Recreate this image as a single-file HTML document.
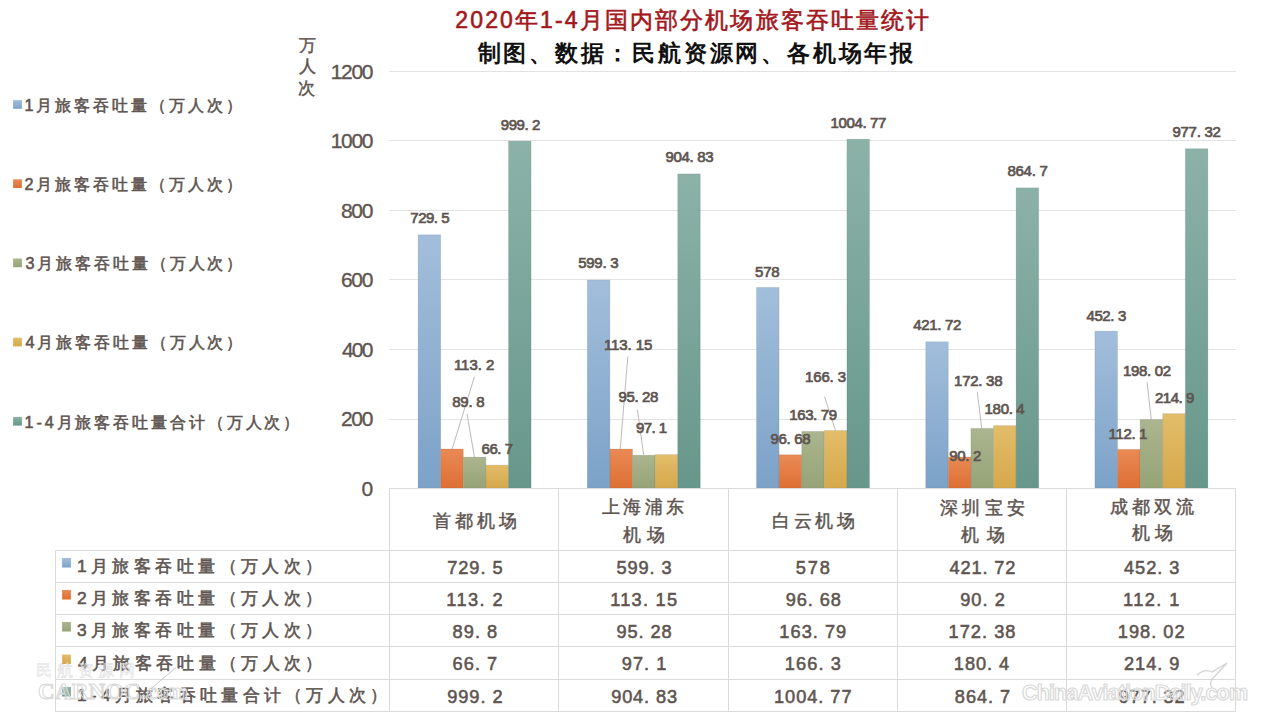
<!DOCTYPE html>
<html><head><meta charset="utf-8"><title>2020年1-4月国内部分机场旅客吞吐量统计</title>
<style>html,body{margin:0;padding:0;background:#fff;}body{width:1280px;height:720px;overflow:hidden;position:relative;}svg{position:absolute;left:0;top:0;display:block;}text{font-family:"Liberation Sans",sans-serif;}</style></head><body>
<svg width="1280" height="720" viewBox="0 0 1280 720">
<defs>
<linearGradient id="g0" x1="0" y1="0" x2="0" y2="1"><stop offset="0" stop-color="#a2bedb"/><stop offset="1" stop-color="#7ca2c8"/></linearGradient>
<linearGradient id="g1" x1="0" y1="0" x2="0" y2="1"><stop offset="0" stop-color="#ea8a55"/><stop offset="1" stop-color="#dd6f33"/></linearGradient>
<linearGradient id="g2" x1="0" y1="0" x2="0" y2="1"><stop offset="0" stop-color="#abb58f"/><stop offset="1" stop-color="#96a376"/></linearGradient>
<linearGradient id="g3" x1="0" y1="0" x2="0" y2="1"><stop offset="0" stop-color="#e3bd6a"/><stop offset="1" stop-color="#d5a84a"/></linearGradient>
<linearGradient id="g4" x1="0" y1="0" x2="0" y2="1"><stop offset="0" stop-color="#8cb2a8"/><stop offset="1" stop-color="#67978a"/></linearGradient>
</defs>
<rect width="1280" height="720" fill="#fff"/>
<line x1="389" y1="419.5" x2="1236" y2="419.5" stroke="#e3e3e3" stroke-width="1"/>
<line x1="389" y1="349.5" x2="1236" y2="349.5" stroke="#e3e3e3" stroke-width="1"/>
<line x1="389" y1="279.5" x2="1236" y2="279.5" stroke="#e3e3e3" stroke-width="1"/>
<line x1="389" y1="210.5" x2="1236" y2="210.5" stroke="#e3e3e3" stroke-width="1"/>
<line x1="389" y1="140.5" x2="1236" y2="140.5" stroke="#e3e3e3" stroke-width="1"/>
<line x1="389" y1="71.5" x2="1236" y2="71.5" stroke="#e3e3e3" stroke-width="1"/>
<rect x="418.10" y="234.80" width="22.60" height="253.50" fill="url(#g0)" stroke="#2a3a48" stroke-opacity="0.1" stroke-width="1"/>
<rect x="587.30" y="280.04" width="22.60" height="208.26" fill="url(#g0)" stroke="#2a3a48" stroke-opacity="0.1" stroke-width="1"/>
<rect x="756.50" y="287.45" width="22.60" height="200.85" fill="url(#g0)" stroke="#2a3a48" stroke-opacity="0.1" stroke-width="1"/>
<rect x="925.70" y="341.75" width="22.60" height="146.55" fill="url(#g0)" stroke="#2a3a48" stroke-opacity="0.1" stroke-width="1"/>
<rect x="1094.90" y="331.13" width="22.60" height="157.17" fill="url(#g0)" stroke="#2a3a48" stroke-opacity="0.1" stroke-width="1"/>
<rect x="440.70" y="448.96" width="22.60" height="39.34" fill="url(#g1)" stroke="#2a3a48" stroke-opacity="0.1" stroke-width="1"/>
<rect x="609.90" y="448.98" width="22.60" height="39.32" fill="url(#g1)" stroke="#2a3a48" stroke-opacity="0.1" stroke-width="1"/>
<rect x="779.10" y="454.70" width="22.60" height="33.60" fill="url(#g1)" stroke="#2a3a48" stroke-opacity="0.1" stroke-width="1"/>
<rect x="948.30" y="456.96" width="22.60" height="31.34" fill="url(#g1)" stroke="#2a3a48" stroke-opacity="0.1" stroke-width="1"/>
<rect x="1117.50" y="449.35" width="22.60" height="38.95" fill="url(#g1)" stroke="#2a3a48" stroke-opacity="0.1" stroke-width="1"/>
<rect x="463.30" y="457.09" width="22.60" height="31.21" fill="url(#g2)" stroke="#2a3a48" stroke-opacity="0.1" stroke-width="1"/>
<rect x="632.50" y="455.19" width="22.60" height="33.11" fill="url(#g2)" stroke="#2a3a48" stroke-opacity="0.1" stroke-width="1"/>
<rect x="801.70" y="431.38" width="22.60" height="56.92" fill="url(#g2)" stroke="#2a3a48" stroke-opacity="0.1" stroke-width="1"/>
<rect x="970.90" y="428.40" width="22.60" height="59.90" fill="url(#g2)" stroke="#2a3a48" stroke-opacity="0.1" stroke-width="1"/>
<rect x="1140.10" y="419.49" width="22.60" height="68.81" fill="url(#g2)" stroke="#2a3a48" stroke-opacity="0.1" stroke-width="1"/>
<rect x="485.90" y="465.12" width="22.60" height="23.18" fill="url(#g3)" stroke="#2a3a48" stroke-opacity="0.1" stroke-width="1"/>
<rect x="655.10" y="454.56" width="22.60" height="33.74" fill="url(#g3)" stroke="#2a3a48" stroke-opacity="0.1" stroke-width="1"/>
<rect x="824.30" y="430.51" width="22.60" height="57.79" fill="url(#g3)" stroke="#2a3a48" stroke-opacity="0.1" stroke-width="1"/>
<rect x="993.50" y="425.61" width="22.60" height="62.69" fill="url(#g3)" stroke="#2a3a48" stroke-opacity="0.1" stroke-width="1"/>
<rect x="1162.70" y="413.62" width="22.60" height="74.68" fill="url(#g3)" stroke="#2a3a48" stroke-opacity="0.1" stroke-width="1"/>
<rect x="508.50" y="141.08" width="22.60" height="347.22" fill="url(#g4)" stroke="#2a3a48" stroke-opacity="0.1" stroke-width="1"/>
<rect x="677.70" y="173.87" width="22.60" height="314.43" fill="url(#g4)" stroke="#2a3a48" stroke-opacity="0.1" stroke-width="1"/>
<rect x="846.90" y="139.14" width="22.60" height="349.16" fill="url(#g4)" stroke="#2a3a48" stroke-opacity="0.1" stroke-width="1"/>
<rect x="1016.10" y="187.82" width="22.60" height="300.48" fill="url(#g4)" stroke="#2a3a48" stroke-opacity="0.1" stroke-width="1"/>
<rect x="1185.30" y="148.68" width="22.60" height="339.62" fill="url(#g4)" stroke="#2a3a48" stroke-opacity="0.1" stroke-width="1"/>
<g stroke="#dadada" stroke-width="1" fill="none">
<line x1="389" y1="488.5" x2="1236" y2="488.5"/>
<line x1="55" y1="550.5" x2="1236" y2="550.5"/>
<line x1="55" y1="582.5" x2="1236" y2="582.5"/>
<line x1="55" y1="614.5" x2="1236" y2="614.5"/>
<line x1="55" y1="646.5" x2="1236" y2="646.5"/>
<line x1="55" y1="679.5" x2="1236" y2="679.5"/>
<line x1="55" y1="711.5" x2="1236" y2="711.5"/>
<line x1="55.5" y1="550.5" x2="55.5" y2="712.0"/>
<line x1="389.5" y1="488.5" x2="389.5" y2="712.0"/>
<line x1="558.5" y1="488.5" x2="558.5" y2="712.0"/>
<line x1="728.5" y1="488.5" x2="728.5" y2="712.0"/>
<line x1="897.5" y1="488.5" x2="897.5" y2="712.0"/>
<line x1="1066.5" y1="488.5" x2="1066.5" y2="712.0"/>
<line x1="1235.5" y1="488.5" x2="1235.5" y2="712.0"/>
</g>
<g stroke="#b9b0ab" stroke-width="0.9" fill="none">
<line x1="474.4" y1="376.7" x2="452.2" y2="448.9"/>
<line x1="467.1" y1="414" x2="474.4" y2="457.1"/>
<line x1="627.8" y1="356.6" x2="620.2" y2="449.4"/>
<line x1="637.4" y1="409.7" x2="643.8" y2="455.8"/>
<line x1="824.5" y1="396.7" x2="835.5" y2="430.5"/>
<line x1="977.3" y1="392.2" x2="981.8" y2="428.9"/>
<line x1="1147.1" y1="382.4" x2="1151.3" y2="420.1"/>
</g>
<rect x="13.1" y="100.1" width="8.8" height="8.7" fill="url(#g0)"/>
<rect x="62.1" y="558.0" width="8.8" height="9.5" fill="url(#g0)"/>
<rect x="13.1" y="179.3" width="8.8" height="8.7" fill="url(#g1)"/>
<rect x="62.1" y="590.0" width="8.8" height="9.5" fill="url(#g1)"/>
<rect x="13.1" y="258.5" width="8.8" height="8.7" fill="url(#g2)"/>
<rect x="62.1" y="622.0" width="8.8" height="9.5" fill="url(#g2)"/>
<rect x="13.1" y="337.7" width="8.8" height="8.7" fill="url(#g3)"/>
<rect x="62.1" y="654.5" width="8.8" height="9.5" fill="url(#g3)"/>
<rect x="13.1" y="416.9" width="8.8" height="8.7" fill="url(#g4)"/>
<rect x="62.1" y="687.0" width="8.8" height="9.5" fill="url(#g4)"/>
<text id="title" x="455.30" y="27.62" font-size="23.00" font-weight="normal" fill="#a3171d" stroke="#a3171d" stroke-width="0.6" textLength="473.96" lengthAdjust="spacing">2020年1-4月国内部分机场旅客吞吐量统计</text>
<text id="sub" x="477.60" y="60.62" font-size="23.00" font-weight="bold" fill="#111111" textLength="435.46" lengthAdjust="spacing">制图、数据：民航资源网、各机场年报</text>
<text id="yt1" x="299.00" y="51.28" font-size="17.00" font-weight="normal" fill="#5e5450" stroke="#5e5450" stroke-width="0.45">万</text>
<text id="yt2" x="299.00" y="71.78" font-size="17.00" font-weight="normal" fill="#5e5450" stroke="#5e5450" stroke-width="0.45">人</text>
<text id="yt3" x="298.00" y="93.58" font-size="17.00" font-weight="normal" fill="#5e5450" stroke="#5e5450" stroke-width="0.45">次</text>
<text id="yl1200" x="330.80" y="78.65" font-size="21.00" font-weight="normal" fill="#5e5450" stroke="#5e5450" stroke-width="0.35" textLength="42.62" lengthAdjust="spacing">1200</text>
<text id="yl1000" x="330.80" y="148.15" font-size="21.00" font-weight="normal" fill="#5e5450" stroke="#5e5450" stroke-width="0.35" textLength="42.62" lengthAdjust="spacing">1000</text>
<text id="yl800" x="341.00" y="217.65" font-size="21.00" font-weight="normal" fill="#5e5450" stroke="#5e5450" stroke-width="0.35" textLength="32.42" lengthAdjust="spacing">800</text>
<text id="yl600" x="341.00" y="287.15" font-size="21.00" font-weight="normal" fill="#5e5450" stroke="#5e5450" stroke-width="0.35" textLength="32.42" lengthAdjust="spacing">600</text>
<text id="yl400" x="342.00" y="356.65" font-size="21.00" font-weight="normal" fill="#5e5450" stroke="#5e5450" stroke-width="0.35" textLength="31.42" lengthAdjust="spacing">400</text>
<text id="yl200" x="341.00" y="426.15" font-size="21.00" font-weight="normal" fill="#5e5450" stroke="#5e5450" stroke-width="0.35" textLength="32.42" lengthAdjust="spacing">200</text>
<text id="yl0" x="361.50" y="495.65" font-size="21.00" font-weight="normal" fill="#5e5450" stroke="#5e5450" stroke-width="0.35">0</text>
<text id="leg0" x="24.50" y="110.83" font-size="16.20" font-weight="normal" fill="#5e5450" stroke="#5e5450" stroke-width="0.55" textLength="217.82" lengthAdjust="spacing">1月旅客吞吐量（万人次）</text>
<text id="leg1" x="24.50" y="190.03" font-size="16.20" font-weight="normal" fill="#5e5450" stroke="#5e5450" stroke-width="0.55" textLength="217.82" lengthAdjust="spacing">2月旅客吞吐量（万人次）</text>
<text id="leg2" x="25.50" y="269.23" font-size="16.20" font-weight="normal" fill="#5e5450" stroke="#5e5450" stroke-width="0.55" textLength="216.82" lengthAdjust="spacing">3月旅客吞吐量（万人次）</text>
<text id="leg3" x="25.50" y="348.43" font-size="16.20" font-weight="normal" fill="#5e5450" stroke="#5e5450" stroke-width="0.55" textLength="216.82" lengthAdjust="spacing">4月旅客吞吐量（万人次）</text>
<text id="leg4" x="24.50" y="427.63" font-size="16.20" font-weight="normal" fill="#5e5450" stroke="#5e5450" stroke-width="0.55" textLength="274.82" lengthAdjust="spacing">1-4月旅客吞吐量合计（万人次）</text>
<text id="dl729.5" x="410.30" y="223.20" font-size="15.00" font-weight="normal" fill="#5e5450" stroke="#5e5450" stroke-width="0.7" textLength="39.20" lengthAdjust="spacing">729. 5</text>
<text id="dl999.2" x="500.80" y="129.50" font-size="15.00" font-weight="normal" fill="#5e5450" stroke="#5e5450" stroke-width="0.7" textLength="39.50" lengthAdjust="spacing">999. 2</text>
<text id="dl113.2" x="453.90" y="370.00" font-size="15.00" font-weight="normal" fill="#5e5450" stroke="#5e5450" stroke-width="0.7" textLength="40.40" lengthAdjust="spacing">113. 2</text>
<text id="dl89.8" x="452.20" y="406.70" font-size="15.00" font-weight="normal" fill="#5e5450" stroke="#5e5450" stroke-width="0.7" textLength="32.50" lengthAdjust="spacing">89. 8</text>
<text id="dl66.7" x="481.60" y="454.40" font-size="15.00" font-weight="normal" fill="#5e5450" stroke="#5e5450" stroke-width="0.7" textLength="31.40" lengthAdjust="spacing">66. 7</text>
<text id="dl599.3" x="578.20" y="268.40" font-size="15.00" font-weight="normal" fill="#5e5450" stroke="#5e5450" stroke-width="0.7" textLength="40.30" lengthAdjust="spacing">599. 3</text>
<text id="dl904.83" x="665.60" y="162.20" font-size="15.00" font-weight="normal" fill="#5e5450" stroke="#5e5450" stroke-width="0.7" textLength="48.00" lengthAdjust="spacing">904. 83</text>
<text id="dl113.15" x="603.90" y="350.00" font-size="15.00" font-weight="normal" fill="#5e5450" stroke="#5e5450" stroke-width="0.7" textLength="48.50" lengthAdjust="spacing">113. 15</text>
<text id="dl95.28" x="618.60" y="402.20" font-size="15.00" font-weight="normal" fill="#5e5450" stroke="#5e5450" stroke-width="0.7" textLength="39.70" lengthAdjust="spacing">95. 28</text>
<text id="dl97.1" x="636.00" y="432.90" font-size="15.00" font-weight="normal" fill="#5e5450" stroke="#5e5450" stroke-width="0.7" textLength="31.00" lengthAdjust="spacing">97. 1</text>
<text id="dl578" x="755.00" y="276.70" font-size="15.00" font-weight="normal" fill="#5e5450" stroke="#5e5450" stroke-width="0.7" textLength="24.70" lengthAdjust="spacing">578</text>
<text id="dl1004.77" x="830.40" y="127.80" font-size="15.00" font-weight="normal" fill="#5e5450" stroke="#5e5450" stroke-width="0.7" textLength="56.00" lengthAdjust="spacing">1004. 77</text>
<text id="dl166.3" x="805.00" y="382.40" font-size="15.00" font-weight="normal" fill="#5e5450" stroke="#5e5450" stroke-width="0.7" textLength="41.00" lengthAdjust="spacing">166. 3</text>
<text id="dl163.79" x="789.20" y="420.40" font-size="15.00" font-weight="normal" fill="#5e5450" stroke="#5e5450" stroke-width="0.7" textLength="47.80" lengthAdjust="spacing">163. 79</text>
<text id="dl96.68" x="770.60" y="443.50" font-size="15.00" font-weight="normal" fill="#5e5450" stroke="#5e5450" stroke-width="0.7" textLength="40.00" lengthAdjust="spacing">96. 68</text>
<text id="dl421.72" x="913.20" y="330.30" font-size="15.00" font-weight="normal" fill="#5e5450" stroke="#5e5450" stroke-width="0.7" textLength="48.20" lengthAdjust="spacing">421. 72</text>
<text id="dl864.7" x="1007.50" y="176.25" font-size="15.00" font-weight="normal" fill="#5e5450" stroke="#5e5450" stroke-width="0.7" textLength="40.30" lengthAdjust="spacing">864. 7</text>
<text id="dl172.38" x="954.10" y="385.60" font-size="15.00" font-weight="normal" fill="#5e5450" stroke="#5e5450" stroke-width="0.7" textLength="48.40" lengthAdjust="spacing">172. 38</text>
<text id="dl180.4" x="984.60" y="414.40" font-size="15.00" font-weight="normal" fill="#5e5450" stroke="#5e5450" stroke-width="0.7" textLength="40.10" lengthAdjust="spacing">180. 4</text>
<text id="dl90.2" x="949.30" y="461.10" font-size="15.00" font-weight="normal" fill="#5e5450" stroke="#5e5450" stroke-width="0.7" textLength="32.10" lengthAdjust="spacing">90. 2</text>
<text id="dl452.3" x="1086.40" y="321.10" font-size="15.00" font-weight="normal" fill="#5e5450" stroke="#5e5450" stroke-width="0.7" textLength="39.90" lengthAdjust="spacing">452. 3</text>
<text id="dl977.32" x="1172.50" y="137.00" font-size="15.00" font-weight="normal" fill="#5e5450" stroke="#5e5450" stroke-width="0.7" textLength="48.30" lengthAdjust="spacing">977. 32</text>
<text id="dl198.02" x="1123.10" y="375.50" font-size="15.00" font-weight="normal" fill="#5e5450" stroke="#5e5450" stroke-width="0.7" textLength="48.00" lengthAdjust="spacing">198. 02</text>
<text id="dl214.9" x="1155.00" y="403.00" font-size="15.00" font-weight="normal" fill="#5e5450" stroke="#5e5450" stroke-width="0.7" textLength="39.30" lengthAdjust="spacing">214. 9</text>
<text id="dl112.1" x="1108.60" y="438.60" font-size="15.00" font-weight="normal" fill="#5e5450" stroke="#5e5450" stroke-width="0.7" textLength="38.80" lengthAdjust="spacing">112. 1</text>
<text id="c0" x="433.10" y="526.60" font-size="17.50" font-weight="normal" fill="#5e5450" stroke="#5e5450" stroke-width="0.45" textLength="84.00" lengthAdjust="spacing">首都机场</text>
<text id="c1a" x="601.90" y="513.45" font-size="17.50" font-weight="normal" fill="#5e5450" stroke="#5e5450" stroke-width="0.45" textLength="82.45" lengthAdjust="spacing">上海浦东</text>
<text id="c1b" x="623.00" y="540.75" font-size="17.50" font-weight="normal" fill="#5e5450" stroke="#5e5450" stroke-width="0.45" textLength="42.05" lengthAdjust="spacing">机场</text>
<text id="c2" x="771.80" y="526.85" font-size="17.50" font-weight="normal" fill="#5e5450" stroke="#5e5450" stroke-width="0.45" textLength="83.15" lengthAdjust="spacing">白云机场</text>
<text id="c3a" x="940.00" y="513.95" font-size="17.50" font-weight="normal" fill="#5e5450" stroke="#5e5450" stroke-width="0.45" textLength="85.35" lengthAdjust="spacing">深圳宝安</text>
<text id="c3b" x="961.00" y="540.95" font-size="17.50" font-weight="normal" fill="#5e5450" stroke="#5e5450" stroke-width="0.45" textLength="44.35" lengthAdjust="spacing">机场</text>
<text id="c4a" x="1110.00" y="513.45" font-size="17.50" font-weight="normal" fill="#5e5450" stroke="#5e5450" stroke-width="0.45" textLength="84.35" lengthAdjust="spacing">成都双流</text>
<text id="c4b" x="1131.70" y="539.15" font-size="17.50" font-weight="normal" fill="#5e5450" stroke="#5e5450" stroke-width="0.45" textLength="41.35" lengthAdjust="spacing">机场</text>
<text id="tv0_0" x="447.25" y="573.50" font-size="18.20" font-weight="normal" fill="#5e5450" stroke="#5e5450" stroke-width="0.55" textLength="55.26" lengthAdjust="spacing">729. 5</text>
<text id="tv0_1" x="616.45" y="573.50" font-size="18.20" font-weight="normal" fill="#5e5450" stroke="#5e5450" stroke-width="0.55" textLength="55.26" lengthAdjust="spacing">599. 3</text>
<text id="tv0_2" x="795.70" y="573.50" font-size="18.20" font-weight="normal" fill="#5e5450" stroke="#5e5450" stroke-width="0.55" textLength="34.16" lengthAdjust="spacing">578</text>
<text id="tv0_3" x="949.55" y="573.50" font-size="18.20" font-weight="normal" fill="#5e5450" stroke="#5e5450" stroke-width="0.55" textLength="65.86" lengthAdjust="spacing">421. 72</text>
<text id="tv0_4" x="1124.05" y="573.50" font-size="18.20" font-weight="normal" fill="#5e5450" stroke="#5e5450" stroke-width="0.55" textLength="55.26" lengthAdjust="spacing">452. 3</text>
<text id="tv1_0" x="446.25" y="605.50" font-size="18.20" font-weight="normal" fill="#5e5450" stroke="#5e5450" stroke-width="0.55" textLength="56.26" lengthAdjust="spacing">113. 2</text>
<text id="tv1_1" x="610.15" y="605.50" font-size="18.20" font-weight="normal" fill="#5e5450" stroke="#5e5450" stroke-width="0.55" textLength="66.86" lengthAdjust="spacing">113. 15</text>
<text id="tv1_2" x="785.65" y="605.50" font-size="18.20" font-weight="normal" fill="#5e5450" stroke="#5e5450" stroke-width="0.55" textLength="55.26" lengthAdjust="spacing">96. 68</text>
<text id="tv1_3" x="960.15" y="605.50" font-size="18.20" font-weight="normal" fill="#5e5450" stroke="#5e5450" stroke-width="0.55" textLength="44.66" lengthAdjust="spacing">90. 2</text>
<text id="tv1_4" x="1123.05" y="605.50" font-size="18.20" font-weight="normal" fill="#5e5450" stroke="#5e5450" stroke-width="0.55" textLength="56.26" lengthAdjust="spacing">112. 1</text>
<text id="tv2_0" x="452.55" y="637.50" font-size="18.20" font-weight="normal" fill="#5e5450" stroke="#5e5450" stroke-width="0.55" textLength="44.66" lengthAdjust="spacing">89. 8</text>
<text id="tv2_1" x="616.45" y="637.50" font-size="18.20" font-weight="normal" fill="#5e5450" stroke="#5e5450" stroke-width="0.55" textLength="55.26" lengthAdjust="spacing">95. 28</text>
<text id="tv2_2" x="779.35" y="637.50" font-size="18.20" font-weight="normal" fill="#5e5450" stroke="#5e5450" stroke-width="0.55" textLength="66.86" lengthAdjust="spacing">163. 79</text>
<text id="tv2_3" x="948.55" y="637.50" font-size="18.20" font-weight="normal" fill="#5e5450" stroke="#5e5450" stroke-width="0.55" textLength="66.86" lengthAdjust="spacing">172. 38</text>
<text id="tv2_4" x="1117.75" y="637.50" font-size="18.20" font-weight="normal" fill="#5e5450" stroke="#5e5450" stroke-width="0.55" textLength="66.86" lengthAdjust="spacing">198. 02</text>
<text id="tv3_0" x="452.55" y="670.00" font-size="18.20" font-weight="normal" fill="#5e5450" stroke="#5e5450" stroke-width="0.55" textLength="44.66" lengthAdjust="spacing">66. 7</text>
<text id="tv3_1" x="621.75" y="670.00" font-size="18.20" font-weight="normal" fill="#5e5450" stroke="#5e5450" stroke-width="0.55" textLength="44.66" lengthAdjust="spacing">97. 1</text>
<text id="tv3_2" x="784.65" y="670.00" font-size="18.20" font-weight="normal" fill="#5e5450" stroke="#5e5450" stroke-width="0.55" textLength="56.26" lengthAdjust="spacing">166. 3</text>
<text id="tv3_3" x="953.85" y="670.00" font-size="18.20" font-weight="normal" fill="#5e5450" stroke="#5e5450" stroke-width="0.55" textLength="55.26" lengthAdjust="spacing">180. 4</text>
<text id="tv3_4" x="1124.05" y="670.00" font-size="18.20" font-weight="normal" fill="#5e5450" stroke="#5e5450" stroke-width="0.55" textLength="55.26" lengthAdjust="spacing">214. 9</text>
<text id="tv4_0" x="447.25" y="702.50" font-size="18.20" font-weight="normal" fill="#5e5450" stroke="#5e5450" stroke-width="0.55" textLength="55.26" lengthAdjust="spacing">999. 2</text>
<text id="tv4_1" x="611.15" y="702.50" font-size="18.20" font-weight="normal" fill="#5e5450" stroke="#5e5450" stroke-width="0.55" textLength="65.86" lengthAdjust="spacing">904. 83</text>
<text id="tv4_2" x="774.05" y="702.50" font-size="18.20" font-weight="normal" fill="#5e5450" stroke="#5e5450" stroke-width="0.55" textLength="77.46" lengthAdjust="spacing">1004. 77</text>
<text id="tv4_3" x="954.85" y="702.50" font-size="18.20" font-weight="normal" fill="#5e5450" stroke="#5e5450" stroke-width="0.55" textLength="55.26" lengthAdjust="spacing">864. 7</text>
<text id="tv4_4" x="1118.75" y="702.50" font-size="18.20" font-weight="normal" fill="#5e5450" stroke="#5e5450" stroke-width="0.55" textLength="65.86" lengthAdjust="spacing">977. 32</text>
<text id="rl0" x="76.90" y="572.46" font-size="17.40" font-weight="normal" fill="#5e5450" stroke="#5e5450" stroke-width="0.55" textLength="245.45" lengthAdjust="spacing">1月旅客吞吐量（万人次）</text>
<text id="rl1" x="76.90" y="604.46" font-size="17.40" font-weight="normal" fill="#5e5450" stroke="#5e5450" stroke-width="0.55" textLength="245.45" lengthAdjust="spacing">2月旅客吞吐量（万人次）</text>
<text id="rl2" x="76.90" y="636.46" font-size="17.40" font-weight="normal" fill="#5e5450" stroke="#5e5450" stroke-width="0.55" textLength="245.45" lengthAdjust="spacing">3月旅客吞吐量（万人次）</text>
<text id="rl3" x="77.90" y="668.96" font-size="17.40" font-weight="normal" fill="#5e5450" stroke="#5e5450" stroke-width="0.55" textLength="244.45" lengthAdjust="spacing">4月旅客吞吐量（万人次）</text>
<text id="rl4" x="76.90" y="701.46" font-size="17.40" font-weight="normal" fill="#5e5450" stroke="#5e5450" stroke-width="0.55" textLength="310.45" lengthAdjust="spacing">1-4月旅客吞吐量合计（万人次）</text>
<g font-family="Liberation Sans, sans-serif" font-weight="bold">
<text x="1022" y="699.5" font-size="21.5" textLength="226" lengthAdjust="spacing" fill="#ffffff" fill-opacity="0.35" stroke="#d9d9d9" stroke-width="1.2">ChinaAviationDaily.com</text>
<path d="M1197 675 Q1205 668 1212 672 L1227 663 L1215 676 Q1208 682 1212 688" fill="none" stroke="#d2d2d2" stroke-width="1.2"/>
<text x="36" y="676" font-size="16" textLength="99" lengthAdjust="spacing" fill="#ffffff" fill-opacity="0.3" stroke="#dcdcdc" stroke-width="0.5" font-weight="normal">民航资源网</text>
<text x="38" y="698.5" font-size="23" style="font-family:'Liberation Serif',serif" textLength="150" lengthAdjust="spacing" fill="#ffffff" fill-opacity="0.3" stroke="#d9d9d9" stroke-width="1.1">CARNOC.com</text>
<line x1="150.8" y1="688.7" x2="176.1" y2="667.6" stroke="#c8c8c8" stroke-width="1"/>
</g>
</svg></body></html>
